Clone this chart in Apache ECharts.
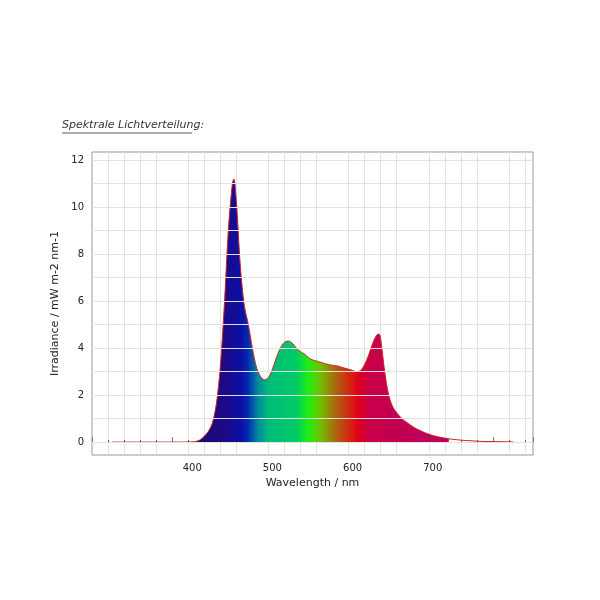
<!DOCTYPE html>
<html><head><meta charset="utf-8">
<script src="https://cdn.jsdelivr.net/npm/echarts@6/dist/echarts.min.js"></script>
<style>html,body{margin:0;background:#fff}#c{width:600px;height:600px}</style>
</head><body><div id="c"></div>
<script>
var wl = [300,320,340,360,380,400,405,410,415,420,425,430,435,440,445,450,452,455,460,465,470,475,480,485,490,495,500,505,510,515,520,525,530,535,540,545,550,555,560,565,570,575,580,585,590,595,600,605,610,615,620,625,630,633,635,640,645,650,655,660,665,670,675,680,685,690,695,700,705,710,715,720,730,740,750,760,780,800];
var irr = [0,0,0,0,0,0.01,0.03,0.1,0.25,0.45,0.8,1.6,3.2,5.8,9.0,11.0,11.2,10.3,7.5,5.8,5.0,4.0,3.2,2.8,2.65,2.75,3.1,3.6,4.0,4.25,4.3,4.2,4.0,3.85,3.75,3.6,3.5,3.45,3.4,3.35,3.3,3.27,3.25,3.2,3.15,3.1,3.05,3.0,3.05,3.3,3.7,4.2,4.55,4.6,4.4,3.0,2.0,1.5,1.25,1.05,0.9,0.78,0.66,0.56,0.48,0.4,0.34,0.28,0.24,0.2,0.17,0.14,0.1,0.07,0.05,0.03,0.02,0.01];
var stops = [[400,'#1a0a6a'],[440,'#1e0a85'],[462,'#0a10a8'],[470,'#0030b0'],[482,'#008a9e'],[495,'#00bb7a'],[530,'#00cc66'],[545,'#20ee10'],[560,'#70c000'],[580,'#b06010'],[598,'#d82010'],[607,'#e00018'],[620,'#c80048'],[720,'#b80060']];

var all = wl.map(function (w, i) { return [w, irr[i]]; });
var filled = all.filter(function (p) { return p[0] >= 400 && p[0] <= 720; });
var grad = new echarts.graphic.LinearGradient(0, 0, 1, 0, stops.map(function (s) {
  return { offset: (s[0] - 400) / 320, color: s[1] };
}));

var chart = echarts.init(document.getElementById('c'));
var axisText = { color: '#222', fontSize: 10, fontFamily: 'DejaVu Sans' };
chart.setOption({
  animation: false,
  graphic: [
    { type: 'text', left: 62, top: 120, style: { text: 'Spektrale Lichtverteilung:', font: 'italic 11px DejaVu Sans', fill: '#333' } },
    { type: 'line', shape: { x1: 62, y1: 133, x2: 192, y2: 133 }, style: { stroke: '#333', lineWidth: 0.8 } }
  ],
  grid: { left: 92, right: 67, top: 152, bottom: 145, show: true, borderColor: '#999', borderWidth: 1 },
  xAxis: {
    type: 'value', min: 275, max: 825, interval: 100,
    name: 'Wavelength / nm', nameLocation: 'middle', nameGap: 22,
    nameTextStyle: { color: '#222', fontSize: 11, fontFamily: 'DejaVu Sans' },
    axisLine: { show: false }, axisTick: { show: true, inside: true, lineStyle: { color: '#777' } },
    axisLabel: Object.assign({ showMinLabel: false, showMaxLabel: false, customValues: [300,400,500,600,700,800] }, axisText),
    splitLine: { show: false },
    minorTick: { show: true, splitNumber: 5, length: 2 },
    minorSplitLine: { show: true, lineStyle: { color: '#e2e2e2' } }
  },
  yAxis: {
    type: 'value', min: -0.55, max: 12.35,
    name: 'Irradiance / mW m-2 nm-1', nameLocation: 'middle', nameGap: 28,
    nameTextStyle: { color: '#222', fontSize: 11, fontFamily: 'DejaVu Sans' },
    axisLine: { show: false }, axisTick: { show: false },
    axisLabel: Object.assign({ customValues: [0,2,4,6,8,10,12] }, axisText),
    splitLine: { show: false },
    minorSplitLine: { show: false }
  },
  series: [
    { type: 'line', data: filled, showSymbol: false, smooth: 0.3, lineStyle: { width: 0 }, areaStyle: { color: grad, opacity: 1, origin: 0 }, z: 2 },
    { type: 'line', data: all, showSymbol: false, smooth: 0.3, lineStyle: { color: '#d02020', width: 1 }, z: 3 },
    { type: 'line', data: [], markLine: { silent: true, symbol: 'none', label: { show: false },
      lineStyle: { color: '#e2e2e2', type: 'solid', width: 1 },
      data: [0,1,2,3,4,5,6,7,8,9,10,11,12].map(function (v) { return { yAxis: v }; }) }, z: 0 }
  ]
});
</script></body></html>
